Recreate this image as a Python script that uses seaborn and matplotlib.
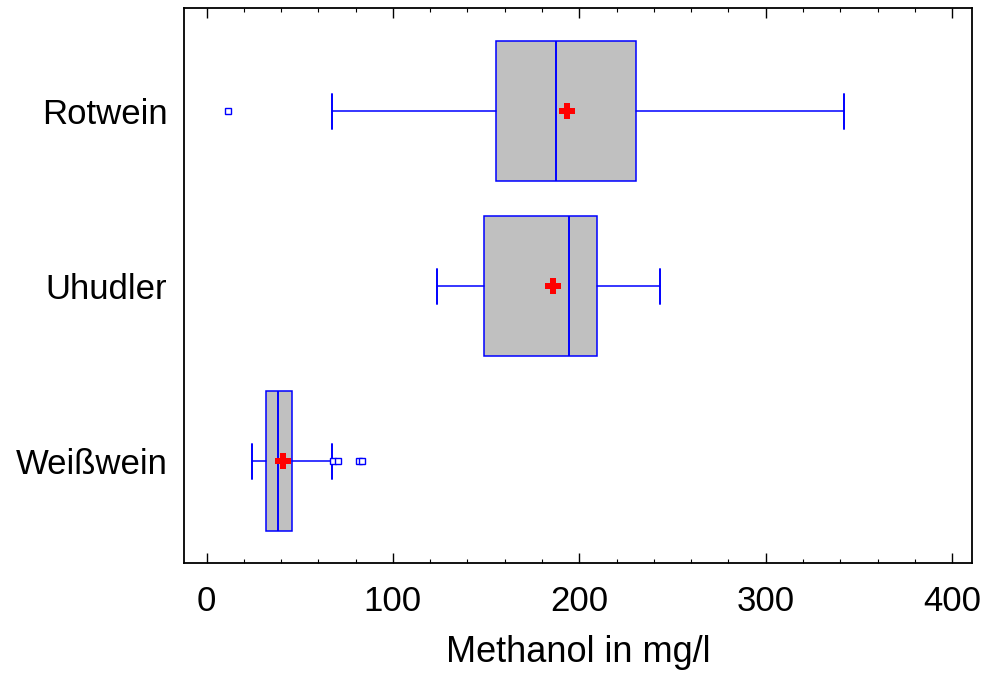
import matplotlib
matplotlib.use("Agg")
import matplotlib.pyplot as plt
from matplotlib.ticker import MultipleLocator
import numpy as np
import pandas as pd
import seaborn as sns

# Box statistics (mg/l)
groups = ["Rotwein", "Uhudler", "Weißwein"]
whisker_low = [67.4, 123.8, 24.3]
q1 = [155.5, 148.9, 32.1]
median = [187.7, 194.3, 38.2]
q3 = [230.2, 209.5, 46.0]
whisker_high = [341.9, 243.5, 67.3]
means = [193.4, 186.1, 40.9]
outliers = [[11.4], [], [68.0, 70.4, 81.6, 83.4]]

sns.set_style("white")
plt.rcParams["font.family"] = ["Liberation Sans", "DejaVu Sans"]
plt.rcParams["text.color"] = "black"
plt.rcParams["axes.labelcolor"] = "black"
plt.rcParams["xtick.color"] = "black"
plt.rcParams["ytick.color"] = "black"

fig = plt.figure(figsize=(9.84, 6.74), dpi=100)
ax = fig.add_axes([0.187, 0.1647, 0.8008, 0.8234])

pos = np.arange(len(groups))
stats = []
for i, g in enumerate(groups):
    stats.append(dict(label=g, whislo=whisker_low[i], q1=q1[i], med=median[i],
                      q3=q3[i], whishi=whisker_high[i], fliers=outliers[i]))

ax.bxp(stats, positions=pos, orientation="horizontal", widths=0.8, capwidths=0.2,
       patch_artist=True, manage_ticks=False,
       boxprops=dict(facecolor="#C0C0C0", edgecolor="#0000FF", linewidth=1.1),
       medianprops=dict(color="#0000FF", linewidth=1.4),
       whiskerprops=dict(color="#0000FF", linewidth=1.1),
       capprops=dict(color="#0000FF", linewidth=1.4),
       flierprops=dict(marker="s", markerfacecolor="white", markeredgecolor="#0000FF",
                       markersize=4, markeredgewidth=1.0))

# mean markers
mean_df = pd.DataFrame({"mean": means, "pos": pos})
sns.scatterplot(data=mean_df, x="mean", y="pos", marker="P", s=125, color="red",
                linewidth=0, ax=ax, zorder=5)

ax.set_xlim(-12.1, 410.7)
ax.set_ylim(2.58, -0.59)
ax.set_yticks(pos)
ax.set_yticklabels(groups)
ax.xaxis.set_major_locator(MultipleLocator(100))
ax.xaxis.set_minor_locator(MultipleLocator(20))
ax.tick_params(axis="x", which="major", direction="in", top=True, bottom=True,
               length=7, width=1.0, color="black", labelsize=25, pad=16,
               labelcolor="black")
ax.tick_params(axis="x", which="minor", direction="in", top=True, bottom=True,
               length=3, width=0.8, color="black")
ax.tick_params(axis="y", length=0, labelsize=25, pad=12, labelcolor="black")

for s in ax.spines.values():
    s.set_visible(True)
    s.set_color("black")
    s.set_linewidth(1.3)

ax.set_xlabel("Methanol in mg/l", fontsize=26, labelpad=12, color="black")
ax.set_ylabel("")

fig.savefig("out.png", dpi=100)
